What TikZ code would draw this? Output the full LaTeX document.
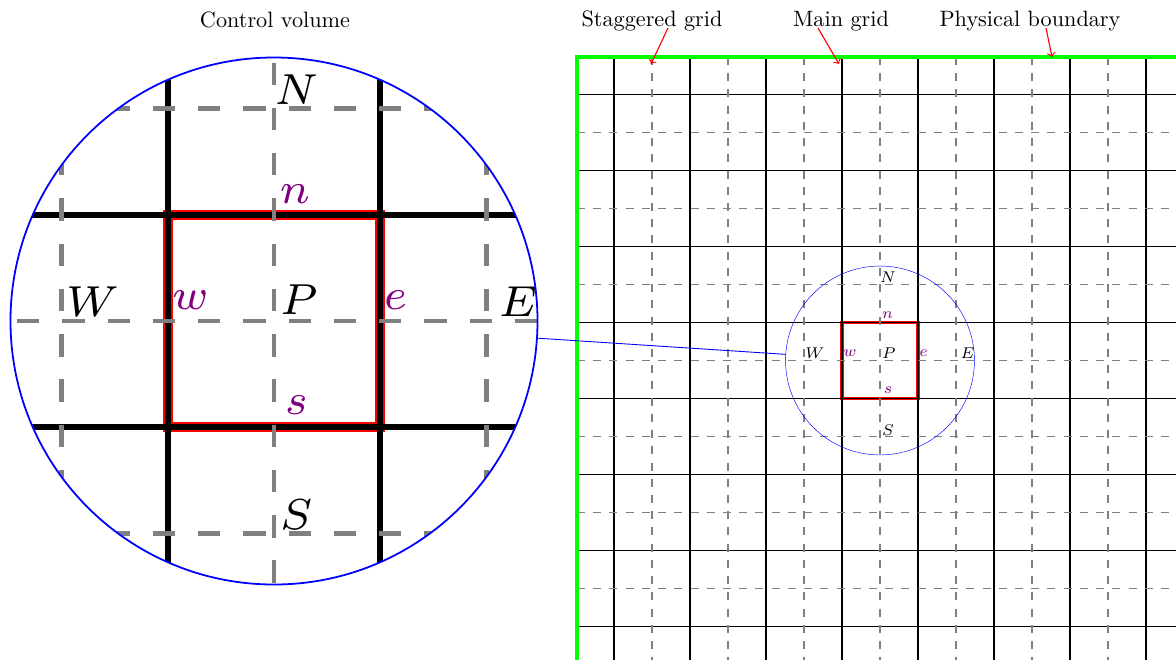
\documentclass[tikz,border=0pt]{standalone}
\usetikzlibrary{spy}
\begin{document}
\begin{tikzpicture}[x=0.45pt,y=-0.45pt,
  mainline/.style={black, line width=0.88pt},
  stagline/.style={gray, line width=0.8pt, dash pattern=on 3.6pt off 3.7pt},
  boundary/.style={green, line width=1.5pt},
  cvbox/.style={red, line width=1.7pt},
  callout/.style={red, line width=0.5pt, ->},
  toplabel/.style={anchor=base, inner sep=0pt},
  bigl/.style={font=\scriptsize, inner sep=0pt},
  facel/.style={font=\scriptsize, inner sep=0pt, text=violet}]
\useasboundingbox (0,0) rectangle (1176,660);
\begin{scope}[spy using outlines={circle, magnification=2.79, connect spies}]
% control volume box
\draw[cvbox] (842,322.5) rectangle (918,398.5);
% main grid
\foreach \k in {0,...,7} {
  \draw[mainline] (614+76*\k,57) -- (614+76*\k,660);
  \draw[mainline] (577,94.5+76*\k) -- (1176,94.5+76*\k);
}
% staggered grid
\foreach \k in {0,...,6} {
  \draw[stagline] (652+76*\k,57) -- (652+76*\k,660);
  \draw[stagline] (577,132.5+76*\k) -- (1176,132.5+76*\k);
}
% physical boundary
\draw[boundary] (577,660) -- (577,57) -- (1176,57);
% labels
\node[bigl] (N) at (888,277.5) {$N$};
\node[facel] (n) at (887.5,315) {$n$};
\node[bigl] (W) at (815,353.5) {$W$};
\node[facel] (w) at (850,353) {$w$};
\node[bigl] (P) at (889,353) {$P$};
\node[facel] (e) at (923.5,353) {$e$};
\node[bigl] (E) at (967.5,353.5) {$E$};
\node[facel] (s) at (888,390.5) {$s$};
\node[bigl] (S) at (888,430) {$S$};
% magnifier
\spy[blue, size=237.15pt, line width=0.5pt] on (880,360.5) in node[line width=0.8pt] at (274,321);
\end{scope}
% top labels
\node[toplabel] (cv) at (275,27) {Control volume};
\node[toplabel] (sg) at (652,26) {Staggered grid};
\node[toplabel] (mg) at (841,26) {Main grid};
\node[toplabel] (pb) at (1030,26) {Physical boundary};
\coordinate (sgA) at (668,28);
\coordinate (sgB) at (651,64);
\coordinate (mgA) at (818,28);
\coordinate (mgB) at (839,64);
\coordinate (pbA) at (1046,28);
\coordinate (pbB) at (1052,57);
\draw[callout] (sgA) -- (sgB);
\draw[callout] (mgA) -- (mgB);
\draw[callout] (pbA) -- (pbB);
\end{tikzpicture}
\end{document}
